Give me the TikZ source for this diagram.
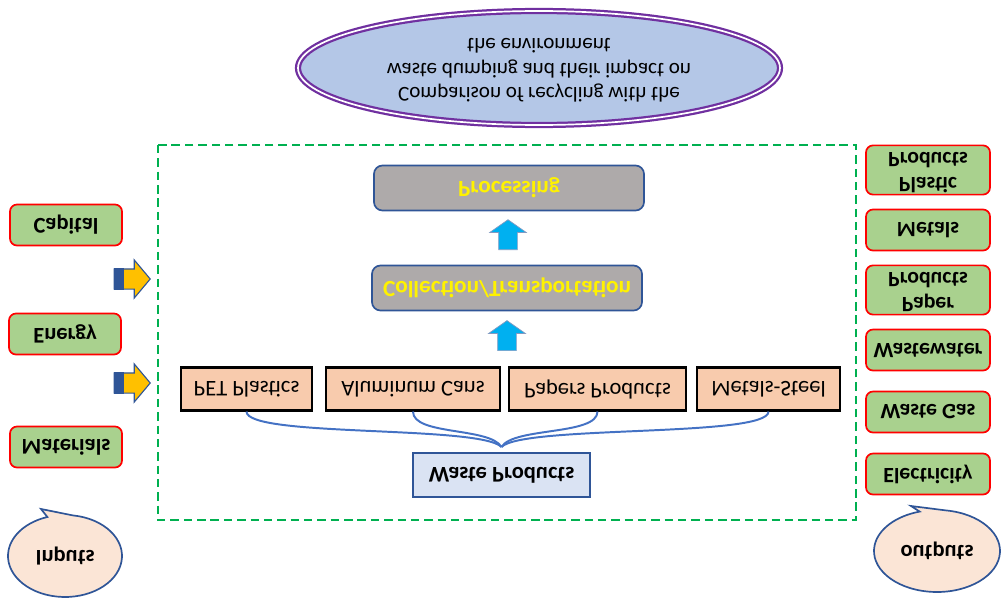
\documentclass[tikz,border=0pt]{standalone}
\usepackage{fontspec}
\setmainfont{Carlito}
\usetikzlibrary{arrows.meta,positioning,shapes.geometric,shapes.arrows,calc}
\definecolor{BoxGreen}{HTML}{A9D18E}
\definecolor{BoxRed}{HTML}{FF0000}
\definecolor{ProcGray}{HTML}{AEAAAA}
\definecolor{EdgeBlue}{HTML}{2F5597}
\definecolor{SortPeach}{HTML}{F8CBAD}
\definecolor{WasteBlue}{HTML}{DAE3F3}
\definecolor{LinkBlue}{HTML}{4472C4}
\definecolor{GoalBlue}{HTML}{B4C7E7}
\definecolor{GoalPurple}{HTML}{7030A0}
\definecolor{FrameGreen}{HTML}{00B050}
\definecolor{FlowCyan}{HTML}{00B0F0}
\definecolor{FlowYellow}{HTML}{FFC000}
\definecolor{BubblePeach}{HTML}{FBE5D6}
\newcommand{\flipud}[1]{\scalebox{1}[-1]{#1}}
\newcommand{\pu}{0.025cm}

\begin{document}
\begin{tikzpicture}[
  x=0.025cm, y=-0.025cm,
  every node/.style={font=\fontsize{16}{18}\selectfont, inner sep=0pt},
  iobox/.style={draw=BoxRed, fill=BoxGreen, line width=1.2pt, rounded corners=5pt, minimum width=112*\pu, minimum height=41*\pu, font=\fontsize{16}{18}\selectfont\bfseries},
  outbox/.style={iobox, minimum width=124*\pu, font=\fontsize{15.5}{17.5}\selectfont\bfseries},
  stagebox/.style={draw=EdgeBlue, fill=ProcGray, line width=1.2pt, rounded corners=6pt, minimum width=270*\pu, minimum height=45*\pu, text=yellow, font=\fontsize{16.5}{18}\selectfont\bfseries},
  sortbox/.style={draw=black, fill=SortPeach, line width=1.5pt, minimum height=43*\pu},
  wastebox/.style={draw=EdgeBlue, fill=WasteBlue, line width=1.5pt, minimum width=177*\pu, minimum height=44*\pu, font=\fontsize{16}{18}\selectfont\bfseries},
  link/.style={draw=LinkBlue, line width=1.4pt},
  uparrow/.style={single arrow, shape border rotate=90, fill=FlowCyan, draw=EdgeBlue!60, line width=0.5pt, minimum height=30*\pu, minimum width=36*\pu, inner ysep=0pt, inner xsep=9*\pu, single arrow head extend=9*\pu, single arrow tip angle=110},
  inarrow/.style={single arrow, fill=FlowYellow, draw=EdgeBlue, line width=0.8pt, minimum height=36*\pu, minimum width=37*\pu, inner xsep=0pt, inner ysep=9.5*\pu, single arrow head extend=9*\pu, single arrow tip angle=100},
  bubble/.style={draw=EdgeBlue, fill=BubblePeach, line width=1.2pt},
  frame/.style={draw=FrameGreen, line width=2pt, dash pattern=on 6pt off 3.5pt}
]
\useasboundingbox (0,0) rectangle (1002,598);

% goal
\node[ellipse, draw=GoalPurple, double=white, double distance=1.2pt, line width=1.6pt, fill=GoalBlue, minimum width=482*\pu, minimum height=114*\pu, font=\fontsize{15}{17.5}\selectfont] (goal) at (539,68)
  {\flipud{\begin{tabular}{@{}c@{}}Comparison of recycling with the\\waste dumping and their impact on\\the environment\end{tabular}}};

% system boundary
\draw[frame] (158,145) rectangle (856,520);

% process chain
\node[stagebox] (proc) at (509,188) {\flipud{Processing}};
\node[stagebox] (collect) at (507,288) {\flipud{Collection/Transportation}};
\node[uparrow] (up1) at ($(proc.south)!0.5!(collect.north)$) {};

\node[sortbox, minimum width=131*\pu] (pet) at (246.5,389) {\flipud{PET Plastics}};
\node[sortbox, minimum width=174*\pu] (alum) at (413,389) {\flipud{Aluminum Cans}};
\node[sortbox, minimum width=177*\pu] (paper) at (597.5,389) {\flipud{Papers Products}};
\node[sortbox, minimum width=143*\pu] (steel) at (768.5,389) {\flipud{Metals-Steel}};
\node[uparrow] (up2) at ($(collect.south)!0.5!(paper.north -| collect.south)$) {};

\node[wastebox] (waste) at (501.5,475) {\flipud{Waste Products}};
\coordinate (hub) at ($(waste.north)+(0,-5)$);
\draw[link] (pet.south) .. controls +(0,26) and +(-22,-22) .. (hub);
\draw[link] (alum.south) .. controls +(0,24) and +(-12,-20) .. (hub);
\draw[link] (paper.south) .. controls +(0,24) and +(12,-20) .. (hub);
\draw[link] (steel.south) .. controls +(0,26) and +(22,-22) .. (hub);

% inputs
\node[iobox] (capital) at (66,225) {\flipud{Capital}};
\node[iobox] (energy) at (65,334) {\flipud{Energy}};
\node[iobox] (materials) at (66,447) {\flipud{Materials}};
\node[inarrow] (in1) at (128,279) {};
\node[inarrow] (in2) at (128,383) {};
\fill[EdgeBlue] (in1.before tail) rectangle ($(in1.after tail)+(10,0)$);
\fill[EdgeBlue] (in2.before tail) rectangle ($(in2.after tail)+(10,0)$);

\draw[bubble] (41,509) -- ($(65,556)+(-82:57 and 41)$)
  arc[start angle=-82, end angle=252, x radius=57, y radius=41] -- cycle;
\node[font=\fontsize{16}{18}\selectfont\bfseries] (inputs) at (65,556) {\flipud{Inputs}};

% outputs
\node[outbox, minimum height=49*\pu] (plastic) at (928,170) {\flipud{\begin{tabular}{@{}c@{}}Plastic\\Products\end{tabular}}};
\node[outbox] (metals) at (928,230) {\flipud{Metals}};
\node[outbox, minimum height=49*\pu] (paperout) at (928,290) {\flipud{\begin{tabular}{@{}c@{}}Paper\\Products\end{tabular}}};
\node[outbox] (wastewater) at (928,350) {\flipud{Wastewater}};
\node[outbox] (wastegas) at (928,412) {\flipud{Waste Gas}};
\node[outbox] (electricity) at (928,474) {\flipud{Electricity}};

\draw[bubble] (911,506) -- ($(937,551)+(-82:63 and 41)$)
  arc[start angle=-82, end angle=254, x radius=63, y radius=41] -- cycle;
\node[font=\fontsize{16}{18}\selectfont\bfseries] (outputs) at (937,551) {\flipud{outputs}};
\end{tikzpicture}
\end{document}
